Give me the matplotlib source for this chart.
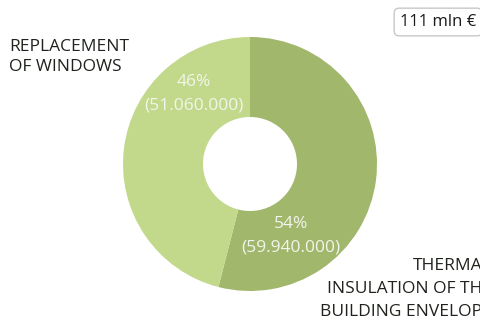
import matplotlib.pyplot as plt

plt.rcParams['font.family'] = ['Open Sans', 'DejaVu Sans']

# investment split, in euro
categories = ["THERMAL\nINSULATION OF THE\nBUILDING ENVELOPE", "REPLACEMENT\nOF WINDOWS"]
amounts = [59940000, 51060000]
shares = ["54%", "46%"]
amount_labels = ["(59.940.000)", "(51.060.000)"]
total_label = "111 mln €"
colors = ["#a0b76c", "#c2d98c"]

W, H = 481, 325
fig = plt.figure(figsize=(W / 100, H / 100), dpi=100)
ax = fig.add_axes([0, 0, 1, 1])

cx, cy, r = 250, H - 164, 127
ax.pie(amounts, colors=colors, startangle=90, counterclock=False,
       center=(cx, cy), radius=r, frame=True,
       wedgeprops=dict(width=80, linewidth=0))
ax.set_xlim(0, W)
ax.set_ylim(0, H)
ax.axis("off")

txt_col = "#f2f5ea"
ax.text(291, H - 224, shares[0], ha="center", va="center", fontsize=12.5, color=txt_col)
ax.text(291, H - 247, amount_labels[0], ha="center", va="center", fontsize=12.5, color=txt_col)
ax.text(194, H - 82, shares[1], ha="center", va="center", fontsize=12.5, color=txt_col)
ax.text(194, H - 106, amount_labels[1], ha="center", va="center", fontsize=12.5, color=txt_col)

lab_col = "#1f231c"
ax.text(9, H - 57, categories[1], ha="left", va="center", fontsize=12.5,
        color=lab_col, linespacing=1.4, fontweight="medium")
ax.text(492, H - 289, categories[0], ha="right", va="center", fontsize=12.5,
        color=lab_col, linespacing=1.55, multialignment="right", fontweight="medium")

ax.text(400, H - 22, total_label, ha="left", va="center", fontsize=12, color="#1a1a1a",
        fontweight="medium",
        bbox=dict(boxstyle="round,pad=0.35,rounding_size=0.3", fc="white",
                  ec="#c8c8c8", lw=1))

fig.savefig("out.png", dpi=100)
